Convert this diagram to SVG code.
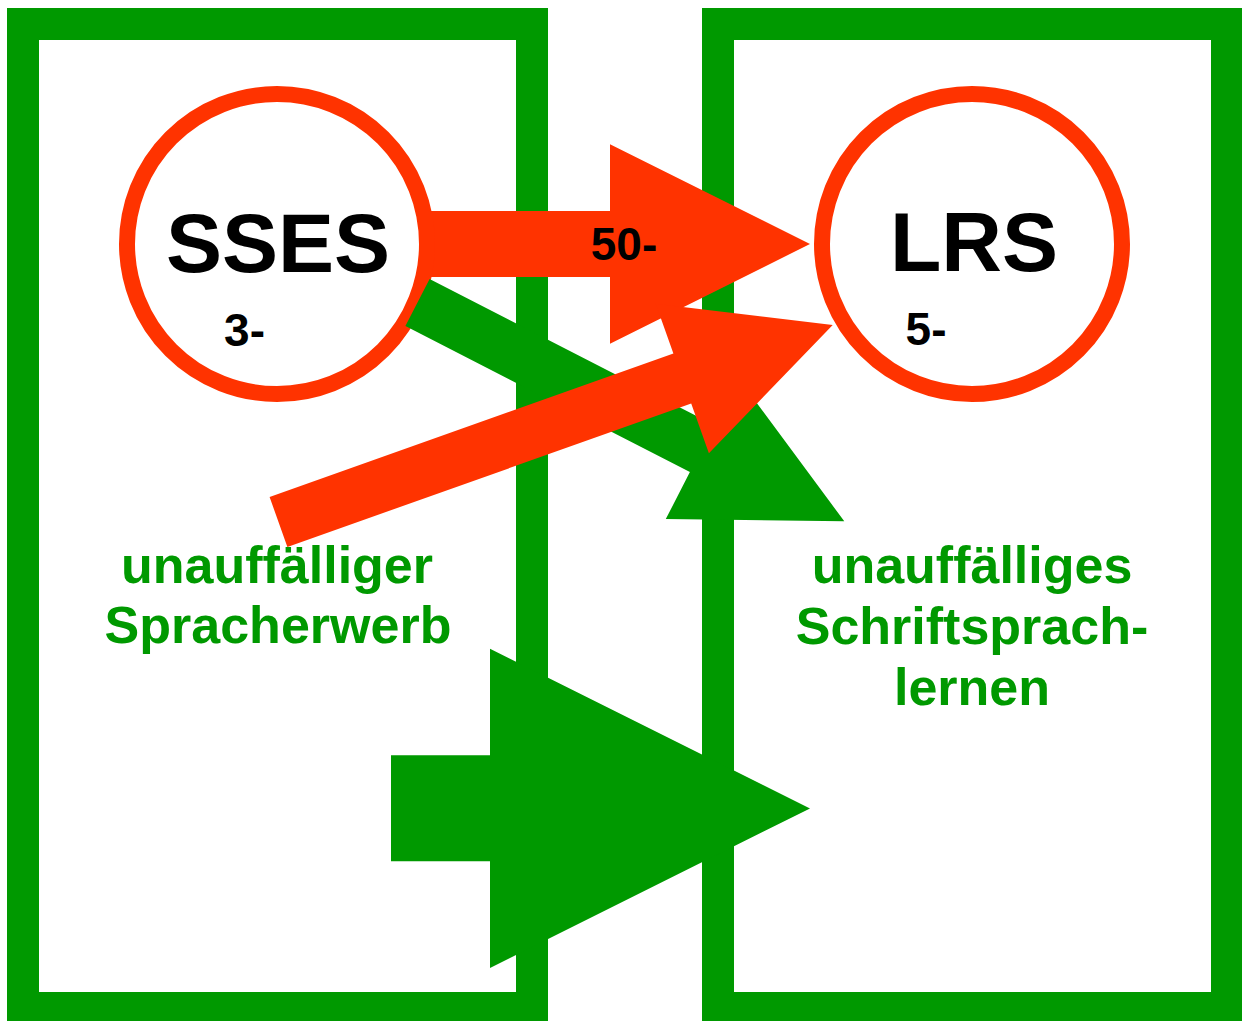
<svg xmlns="http://www.w3.org/2000/svg" width="1242" height="1021" viewBox="0 0 1242 1021">
<style>
.box{fill:#ffffff;stroke:#009900;stroke-width:32}
.ring{fill:#ffffff;stroke:#ff3300;stroke-width:16}
.red{fill:#ff3300}
.green{fill:#009900}
.big{font-family:"Liberation Sans",Arial,sans-serif;font-weight:bold;font-size:84px;fill:#000000;text-anchor:middle}
.num{font-family:"Liberation Sans",Arial,sans-serif;font-weight:bold;font-size:46px;fill:#000000;text-anchor:middle}
.lbl{font-family:"Liberation Sans",Arial,sans-serif;font-weight:bold;font-size:52px;fill:#009900;text-anchor:middle}
</style>
<rect width="1242" height="1021" fill="#ffffff"/>
<g id="box-left"><rect class="box" x="23" y="24" width="509" height="984"/></g>
<g id="box-right"><rect class="box" x="718" y="24" width="509" height="984"/></g>
<g id="connectors">
<polygon id="arrow-sses-lrs" class="red" points="300,211 610,211 610,144.3 810,244 610,343.7 610,277 300,277"/>
</g>
<g id="node-sses">
<circle class="ring" cx="277" cy="244" r="150"/>
<text class="big" x="278" y="272">SSES</text>
<text class="num" x="244.5" y="345.5">3-</text>
</g>
<g id="node-lrs">
<circle class="ring" cx="972" cy="244" r="150"/>
<text class="big" x="974" y="271">LRS</text>
<text class="num" x="926" y="345">5-</text>
</g>
<g id="connectors-2">
<polygon id="arrow-sses-green" class="green" points="429.6,278.9 714.1,424.9 738.2,377.9 844.3,521.3 665.8,519.1 689.9,472.1 405.4,326.1"/>
<polygon id="arrow-diag-red" class="red" points="269.6,497 673.4,353.5 655.7,303.7 832.7,325 708.9,453.3 691.2,403.5 287.4,547"/>
<polygon id="arrow-big-green" class="green" points="391,755.3 490,755.3 490,648.8 810,808.4 490,968 490,861.3 391,861.3"/>
<text class="num" x="624" y="260">50-</text>
</g>
<g id="label-left">
<text class="lbl" x="277" y="583">unauffälliger</text>
<text class="lbl" x="278" y="643">Spracherwerb</text>
</g>
<g id="label-right">
<text class="lbl" x="972" y="583">unauffälliges</text>
<text class="lbl" x="972" y="644">Schriftsprach-</text>
<text class="lbl" x="972" y="705">lernen</text>
</g>
</svg>
